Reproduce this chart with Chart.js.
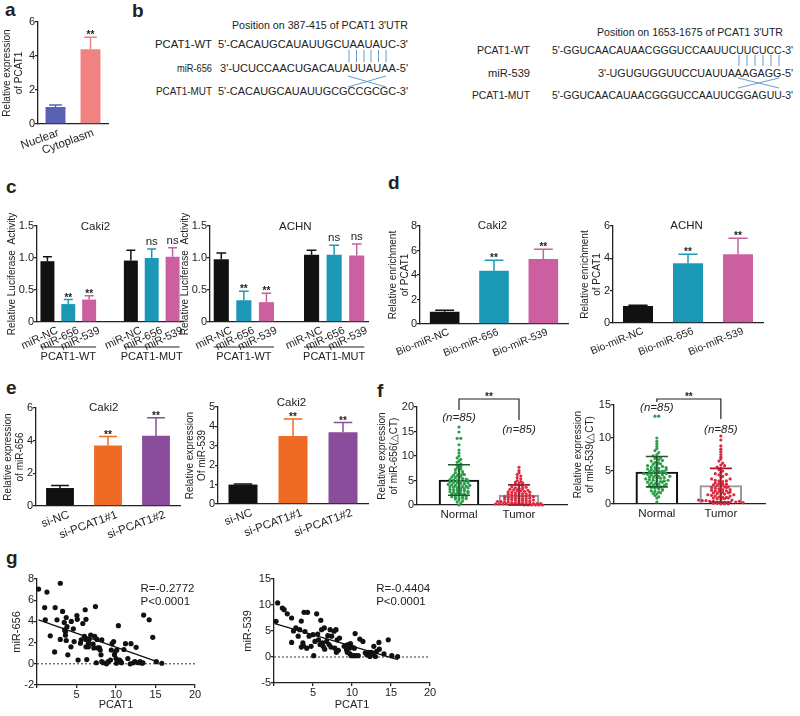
<!DOCTYPE html>
<html>
<head>
<meta charset="utf-8">
<script src="https://cdn.jsdelivr.net/npm/chart.js@4.4.1/dist/chart.umd.min.js"></script>
<style>
  body { margin: 0; background: #fff; }
  #fig { position: relative; width: 800px; height: 716px; overflow: hidden; background: #fff; }
  #fig canvas { position: absolute; }
  #fig svg { position: absolute; left: 0; top: 0; }
</style>
</head>
<body>
<div id="fig">
  <svg width="800" height="716" font-family="Liberation Sans, Arial, sans-serif" fill="#222">
    <g font-size="19" font-weight="bold">
      <text x="5" y="16">a</text>
      <text x="132" y="17">b</text>
      <text x="6" y="193">c</text>
      <text x="388" y="189">d</text>
      <text x="6" y="394">e</text>
      <text x="377" y="397">f</text>
      <text x="6" y="564">g</text>
    </g>
    <g font-size="11.5">
      <text x="232" y="29" textLength="176" lengthAdjust="spacingAndGlyphs">Position on 387-415 of PCAT1 3'UTR</text>
      <text x="155" y="48" textLength="57" lengthAdjust="spacingAndGlyphs">PCAT1-WT</text>
      <text x="218" y="48" textLength="190" lengthAdjust="spacingAndGlyphs">5'-CACAUGCAUAUUGCUAAUAUC-3'</text>
      <text x="177" y="72" textLength="35" lengthAdjust="spacingAndGlyphs">miR-656</text>
      <text x="220" y="72" textLength="188" lengthAdjust="spacingAndGlyphs">3'-UCUCCAACUGACAUAUUAUAA-5'</text>
      <text x="156" y="95" textLength="56" lengthAdjust="spacingAndGlyphs">PCAT1-MUT</text>
      <text x="218" y="95" textLength="190" lengthAdjust="spacingAndGlyphs">5'-CACAUGCAUAUUGCGCCGCGC-3'</text>

      <text x="597" y="36" textLength="186" lengthAdjust="spacingAndGlyphs">Position on 1653-1675 of PCAT1 3'UTR</text>
      <text x="477" y="54" textLength="53" lengthAdjust="spacingAndGlyphs">PCAT1-WT</text>
      <text x="552" y="54" textLength="241" lengthAdjust="spacingAndGlyphs">5'-GGUCAACAUAACGGGUCCAAUUCUUCUCC-3'</text>
      <text x="488" y="77" textLength="42" lengthAdjust="spacingAndGlyphs">miR-539</text>
      <text x="598" y="77" textLength="195" lengthAdjust="spacingAndGlyphs">3'-UGUGUGGUUCCUAUUAAAGAGG-5'</text>
      <text x="472" y="99" textLength="58" lengthAdjust="spacingAndGlyphs">PCAT1-MUT</text>
      <text x="552" y="99" textLength="241" lengthAdjust="spacingAndGlyphs">5'-GGUCAACAUAACGGGUCCAAUUCGGAGUU-3'</text>
    </g>
    <g stroke="#6a9ccf" stroke-width="1" fill="none">
      <path d="M349 50V62M356.5 50V62M364 50V62M371 50V62M378.5 50V62M386 50V62"/>
      <path d="M348 76L386 87M348 87L386 76"/>
      <path d="M739 55V66M747 55V66M755 55V66M763 55V66M771 55V66M779 55V66"/>
      <path d="M738 78L779 88M738 88L779 78"/>
    </g>
  </svg>
  <canvas id="chartA" width="115" height="165" style="left:0;top:0"></canvas>
  <canvas id="chartCL" width="192" height="170" style="left:0;top:195px"></canvas>
  <canvas id="chartCR" width="199" height="170" style="left:178px;top:195px"></canvas>
  <canvas id="chartDL" width="190" height="165" style="left:385px;top:195px"></canvas>
  <canvas id="chartDR" width="195" height="165" style="left:577px;top:195px"></canvas>
  <canvas id="chartEL" width="190" height="165" style="left:0;top:380px"></canvas>
  <canvas id="chartER" width="190" height="165" style="left:184px;top:380px"></canvas>
  <canvas id="chartFL" width="197" height="150" style="left:376px;top:385px"></canvas>
  <canvas id="chartFR" width="200" height="150" style="left:572px;top:385px"></canvas>
  <canvas id="chartGL" width="205" height="156" style="left:0;top:560px"></canvas>
  <canvas id="chartGR" width="205" height="156" style="left:236px;top:560px"></canvas>
</div>
<script>
// ---------- data ----------
// a: subcellular fractions
const aLabels = ['Nuclear', 'Cytoplasm'];
const aValues = [1.0, 4.4];
const aErrTop = [1.12, 5.1];
const aSig = ['', '**'];

// c: luciferase (blank slot separates the WT and MUT groups)
const cLabels = ['miR-NC', 'miR-656', 'miR-539', '', 'miR-NC', 'miR-656', 'miR-539'];
const cGroups = ['PCAT1-WT', 'PCAT1-MUT'];
const cCakiValues = [0.95, 0.28, 0.35, null, 0.96, 1.0, 1.02];
const cCakiErrTop = [1.02, 0.35, 0.41, null, 1.12, 1.14, 1.16];
const cAchnValues = [0.98, 0.34, 0.31, null, 1.05, 1.05, 1.04];
const cAchnErrTop = [1.08, 0.48, 0.45, null, 1.12, 1.2, 1.22];
const cSig = ['', '**', '**', '', '', 'ns', 'ns'];

// d: biotin pull-down
const dLabels = ['Bio-miR-NC', 'Bio-miR-656', 'Bio-miR-539'];
const dCakiValues = [1.0, 4.35, 5.3];
const dCakiErrTop = [1.12, 5.2, 6.1];
const dAchnValues = [1.05, 3.7, 4.25];
const dAchnErrTop = [1.1, 4.25, 5.25];
const dSig = ['', '**', '**'];

// e: knockdown
const eLabels = ['si-NC', 'si-PCAT1#1', 'si-PCAT1#2'];
const e656Values = [1.1, 3.7, 4.3];
const e656ErrTop = [1.25, 4.25, 5.4];
const e539Values = [1.0, 3.5, 3.7];
const e539ErrTop = [1.03, 4.38, 4.2];
const eSig = ['', '**', '**'];

// f: tissue expression (n=85 each)
const fGroups = ['Normal', 'Tumor'];
const f656Normal = [15.9, 14.9, 13.6, 13.6, 12.3, 11.2, 10.6, 10.0, 9.6, 9.3, 9.0, 8.7, 8.4, 8.1, 7.9, 7.6, 7.4, 7.2, 7.0, 6.8, 6.6, 6.4, 6.3, 6.1, 6.0, 5.9, 5.7, 5.6, 5.5, 5.4, 5.3, 5.2, 5.1, 5.0, 4.9, 4.8, 4.7, 4.6, 4.5, 4.4, 4.3, 4.2, 4.1, 4.0, 3.9, 3.8, 3.8, 3.7, 3.6, 3.5, 3.4, 3.3, 3.2, 3.1, 3.0, 3.0, 2.9, 2.8, 2.7, 2.6, 2.5, 2.4, 2.3, 2.2, 2.1, 2.0, 1.9, 1.8, 1.7, 1.6, 1.5, 1.4, 1.3, 1.2, 1.0, 0.8, 0.6, 0.4, 0.0, 4.5, 5.0, 3.5, 6.2, 2.5, 4.0];
const f656Tumor = [7.7, 7.0, 6.6, 6.2, 5.9, 5.6, 5.3, 5.0, 4.8, 4.6, 4.4, 4.2, 4.0, 3.8, 3.7, 3.5, 3.4, 3.2, 3.1, 3.0, 2.9, 2.8, 2.7, 2.6, 2.5, 2.4, 2.3, 2.2, 2.1, 2.0, 1.9, 1.8, 1.8, 1.7, 1.6, 1.5, 1.5, 1.4, 1.3, 1.3, 1.2, 1.1, 1.1, 1.0, 0.9, 0.9, 0.8, 0.8, 0.7, 0.7, 0.6, 0.6, 0.5, 0.5, 0.5, 0.4, 0.4, 0.4, 0.3, 0.3, 0.3, 0.2, 0.2, 0.2, 0.2, 0.1, 0.1, 0.1, 0.1, 0.0, 0.0, 0.0, 0.0, 0.0, 0.0, 1.0, 1.4, 1.7, 2.0, 2.3, 2.6, 3.0, 3.3, 3.6, 4.5];
const f656Mean = [5.1, 2.0];
const f656Low = [2.0, 0.0];
const f656High = [8.2, 4.1];
const f539Normal = [13.3, 13.3, 10.0, 9.5, 9.1, 8.7, 8.4, 8.1, 7.8, 7.5, 7.3, 7.1, 6.9, 6.7, 6.5, 6.3, 6.2, 6.0, 5.9, 5.8, 5.6, 5.5, 5.4, 5.3, 5.2, 5.1, 5.0, 4.9, 4.8, 4.7, 4.6, 4.5, 4.4, 4.3, 4.2, 4.1, 4.0, 3.9, 3.8, 3.7, 3.6, 3.5, 3.4, 3.3, 3.2, 3.1, 3.0, 2.9, 2.8, 2.7, 2.6, 2.5, 2.4, 2.3, 2.2, 2.0, 1.9, 1.8, 1.6, 1.5, 1.3, 1.1, 0.9, 0.3, 5.7, 5.0, 4.4, 3.9, 3.3, 2.8, 6.1, 4.6, 4.0, 5.5, 3.5, 6.6, 4.8, 3.0, 2.1, 5.2, 4.2, 3.6, 7.0, 1.7, 4.9];
const f539Tumor = [10.3, 9.7, 8.8, 8.3, 7.9, 7.5, 7.1, 6.8, 6.5, 6.2, 5.9, 5.6, 5.4, 5.2, 5.0, 4.8, 4.6, 4.4, 4.2, 4.0, 3.8, 3.6, 3.5, 3.4, 3.2, 3.1, 3.0, 2.9, 2.8, 2.7, 2.6, 2.5, 2.4, 2.3, 2.2, 2.1, 2.0, 1.9, 1.8, 1.7, 1.6, 1.5, 1.4, 1.3, 1.2, 1.1, 1.0, 0.9, 0.8, 0.7, 0.6, 0.5, 0.5, 0.4, 0.4, 0.3, 0.3, 0.2, 0.2, 0.1, 0.1, 0.0, 0.0, 0.0, 2.5, 2.0, 1.5, 1.0, 0.6, 3.0, 3.5, 4.5, 1.8, 1.2, 0.8, 0.3, 2.2, 1.7, 0.9, 0.4, 0.2, 5.8, 3.8, 2.6, 1.4];
const f539Mean = [4.85, 2.8];
const f539Low = [2.6, 0.3];
const f539High = [7.2, 5.4];
const fCounts = ['(n=85)', '(n=85)'];

// g: correlation, [PCAT1, miR]
const g656Points = [[0.2,7.05],[1.05,4.15],[1.26,6.77],[0.97,5.3],[1.68,2.64],[2.3,5.3],[2.23,1.12],[2.53,4.15],[2.95,7.6],[2.95,2.3],[3.24,4.94],[3.45,3.9],[3.5,3.2],[3.6,3.05],[3.7,4.37],[3.6,2.7],[3.8,3.5],[3.7,2.2],[3.9,0.85],[4.34,4.0],[4.3,1.6],[4.7,2.1],[5.05,4.55],[5.1,4.2],[5.2,0.36],[5.5,1.95],[5.6,2.26],[5.8,3.8],[6.0,2.6],[6.1,5.1],[6.2,4.2],[6.2,2.3],[6.2,1.6],[6.3,0.4],[6.4,2.3],[6.5,1.95],[6.5,1.6],[6.8,2.7],[7.1,1.85],[7.4,5.4],[7.2,1.5],[7.3,2.6],[7.5,0.1],[7.6,2.3],[7.7,1.5],[7.9,1.5],[8.0,1.3],[8.1,0.85],[8.2,0.2],[8.2,2.25],[8.4,0.1],[9.0,0.2],[9.3,0.35],[9.4,1.3],[9.5,1.9],[9.7,2.1],[9.8,0.85],[9.9,1.15],[10.0,0.5],[10.1,1.3],[10.3,3.6],[10.2,0.2],[10.45,0.36],[10.6,0.2],[10.7,0.1],[11.0,1.35],[11.2,1.9],[11.5,0.5],[11.9,1.9],[12.2,0.1],[12.4,0.2],[12.55,1.55],[12.8,0.1],[13.05,0.2],[13.3,0.05],[13.5,4.6],[13.4,0.1],[14.2,4.15],[14.65,2.5],[15.1,0.2],[15.8,0.05],[4.6,3.3],[6.6,2.3],[8.8,0.0],[10.05,0.05],[11.8,0.0]];
const g656Fit = [[0.2, 4.15], [15.2, 0.2]];
const g656Stats = ['R=-0.2772', 'P<0.0001'];
const g539Points = [[0.26,6.86],[0.47,10.4],[1.07,9.4],[1.3,9.1],[1.7,8.3],[2.26,7.5],[2.26,2.8],[2.5,5.0],[2.8,5.6],[3.1,4.0],[3.3,5.25],[3.5,6.9],[3.5,1.9],[3.7,2.7],[3.76,2.2],[3.85,8.6],[3.97,4.9],[4.2,1.7],[4.3,8.6],[4.5,4.0],[4.75,2.05],[5.0,4.3],[5.1,0.25],[5.25,3.0],[5.47,8.3],[5.6,4.4],[5.7,3.3],[5.9,2.4],[6.0,7.05],[6.1,5.25],[6.2,2.7],[6.3,2.05],[6.45,5.6],[6.5,1.5],[6.75,3.0],[6.9,4.1],[7.05,2.4],[7.2,5.25],[7.3,1.9],[7.4,4.0],[7.7,4.95],[7.8,1.7],[7.95,5.25],[8.0,0.9],[8.1,3.3],[8.25,1.3],[8.4,3.65],[9.0,2.05],[9.2,2.2],[9.3,1.4],[9.4,0.9],[9.5,2.4],[9.65,1.7],[9.75,0.6],[9.8,2.6],[9.9,0.25],[10.0,1.9],[10.2,0.25],[10.4,4.5],[10.3,1.7],[10.5,0.25],[10.8,0.25],[11.0,3.45],[11.4,3.0],[11.7,0.8],[11.9,0.45],[12.1,0.9],[12.3,0.1],[12.5,0.9],[12.65,0.45],[12.8,2.05],[13.0,0.1],[13.15,1.1],[13.45,2.8],[13.5,1.5],[14.1,0.6],[14.65,3.3],[15.1,0.25],[15.85,0.1]];
const g539Fit = [[0.1, 6.4], [15.9, -0.5]];
const g539Stats = ['R=-0.4404', 'P<0.0001'];

// ---------- styles ----------
const FONT = '"Liberation Sans", Arial, sans-serif';
const INK = '#222';
const BLACK = '#111';
const TEAL = '#1b98b5';
const PINK = '#cc5fa0';
const ORANGE = '#ef6b23';
const PURPLE = '#8a4d9b';
const GREEN = '#2f9e4c';
const RED = '#dc2a40';

Chart.defaults.font.family = FONT;
Chart.defaults.font.size = 11;
Chart.defaults.color = INK;
Chart.defaults.animation = false;

const barExtras = {
  id: 'barExtras',
  afterDatasetsDraw(chart, args, o) {
    if (!o.errTop) return;
    const { ctx, chartArea: ca, scales: { y } } = chart;
    const meta = chart.getDatasetMeta(0);
    const colors = chart.data.datasets[0].backgroundColor;
    ctx.save();
    meta.data.forEach((bar, i) => {
      const e = o.errTop[i];
      if (e == null) return;
      const top = y.getPixelForValue(e);
      const hw = bar.width * 0.32;
      ctx.strokeStyle = colors[i];
      ctx.lineWidth = 1.5;
      ctx.beginPath();
      ctx.moveTo(bar.x, bar.y);
      ctx.lineTo(bar.x, top);
      ctx.moveTo(bar.x - hw, top);
      ctx.lineTo(bar.x + hw, top);
      ctx.stroke();
      const s = o.sig && o.sig[i];
      if (s) {
        ctx.fillStyle = INK;
        ctx.textAlign = 'center';
        ctx.textBaseline = 'alphabetic';
        if (s === '**') {
          ctx.font = 'bold 10px ' + FONT;
          ctx.fillText(s, bar.x, top + 1);
        } else {
          ctx.font = '11.5px ' + FONT;
          ctx.fillText(s, bar.x, top - 4);
        }
      }
    });
    if (o.title) {
      ctx.fillStyle = INK;
      ctx.font = '11.5px ' + FONT;
      ctx.textAlign = 'center';
      ctx.textBaseline = 'middle';
      ctx.fillText(o.title.text, ca.left + o.title.fx * (ca.right - ca.left), ca.top + o.title.dy);
    }
    (o.groups || []).forEach(g => {
      const b0 = meta.data[g.from], b1 = meta.data[g.to];
      const x0 = b0.x - b0.width / 2, x1 = b1.x + b1.width / 2;
      const yy = ca.bottom + 25;
      ctx.strokeStyle = INK;
      ctx.lineWidth = 1.2;
      ctx.beginPath();
      ctx.moveTo(x0, yy);
      ctx.lineTo(x1, yy);
      ctx.stroke();
      ctx.fillStyle = INK;
      ctx.font = '11px ' + FONT;
      ctx.textAlign = 'center';
      ctx.textBaseline = 'middle';
      ctx.fillText(g.text, (x0 + x1) / 2, yy + 10);
    });
    ctx.restore();
  }
};

const dotExtras = {
  id: 'dotExtras',
  afterDatasetsDraw(chart, args, o) {
    if (!o.mean) return;
    const { ctx, chartArea: ca, scales: { x, y } } = chart;
    ctx.save();
    o.mean.forEach((m, i) => {
      const cx = x.getPixelForValue(i + 1);
      const yt = y.getPixelForValue(o.high[i]);
      const yb = y.getPixelForValue(o.low[i]);
      ctx.strokeStyle = o.errColors[i];
      ctx.lineWidth = 1.6;
      ctx.beginPath();
      ctx.moveTo(cx, yb);
      ctx.lineTo(cx, yt);
      ctx.moveTo(cx - 11, yt);
      ctx.lineTo(cx + 11, yt);
      ctx.moveTo(cx - 11, yb);
      ctx.lineTo(cx + 11, yb);
      ctx.stroke();
    });
    const x1 = x.getPixelForValue(1), x2 = x.getPixelForValue(2);
    const by = ca.top + o.bracket.dy;
    ctx.strokeStyle = INK;
    ctx.lineWidth = 1.2;
    ctx.beginPath();
    ctx.moveTo(x1, by + o.bracket.l);
    ctx.lineTo(x1, by);
    ctx.lineTo(x2, by);
    ctx.lineTo(x2, by + o.bracket.r);
    ctx.stroke();
    ctx.fillStyle = INK;
    ctx.textAlign = 'center';
    ctx.textBaseline = 'alphabetic';
    ctx.font = 'bold 10px ' + FONT;
    ctx.fillText('**', (x1 + x2) / 2, by + 1);
    ctx.font = 'italic 11.5px ' + FONT;
    ctx.textBaseline = 'middle';
    o.counts.forEach((t, i) => ctx.fillText(t, x.getPixelForValue(i + 1), ca.top + o.countDy[i]));
    ctx.restore();
  }
};

const corrExtras = {
  id: 'corrExtras',
  beforeDatasetsDraw(chart, args, o) {
    if (!o.stats) return;
    const { ctx, chartArea: ca, scales: { y } } = chart;
    const y0 = y.getPixelForValue(0);
    ctx.save();
    ctx.setLineDash([2, 2]);
    ctx.strokeStyle = '#333';
    ctx.lineWidth = 1;
    ctx.beginPath();
    ctx.moveTo(ca.left, y0);
    ctx.lineTo(ca.right, y0);
    ctx.stroke();
    ctx.restore();
  },
  afterDatasetsDraw(chart, args, o) {
    if (!o.stats) return;
    const { ctx, chartArea: ca } = chart;
    ctx.save();
    ctx.fillStyle = INK;
    ctx.font = '11.5px ' + FONT;
    ctx.textAlign = 'left';
    ctx.textBaseline = 'middle';
    o.stats.forEach((t, i) => ctx.fillText(t, ca.left + 0.655 * (ca.right - ca.left), ca.top + 10 + i * 13));
    ctx.restore();
  }
};

function yScale(o) {
  const s = {
    min: o.min,
    max: o.max,
    ticks: { stepSize: o.step, color: INK, font: { size: 11 }, padding: 0 },
    grid: { drawOnChartArea: false, drawTicks: true, tickLength: 3, color: INK, lineWidth: 1.3 },
    border: { display: true, color: INK, width: 1.3 },
    title: { display: true, text: o.title, color: INK, font: { size: o.tsize || 10, lineHeight: 1.2 }, padding: { top: o.tpad, bottom: 0 } },
    afterFit: sc => { sc.width = o.w; sc.paddingTop = 0; sc.paddingBottom = 0; }
  };
  if (o.fmt) s.ticks.callback = o.fmt;
  return s;
}

function xCatScale(h, rot, shift, size) {
  return {
    ticks: { color: INK, font: { size: size }, autoSkip: false, maxRotation: rot, minRotation: rot, padding: 2, labelOffset: shift },
    grid: { display: false, drawTicks: false },
    border: { display: true, color: INK, width: 1.3 },
    afterFit: sc => { sc.height = h; sc.paddingLeft = 0; sc.paddingRight = 0; }
  };
}

function makeBar(id, o) {
  return new Chart(document.getElementById(id), {
    type: 'bar',
    data: {
      labels: o.labels,
      datasets: [{ data: o.values, backgroundColor: o.colors, barPercentage: o.bp, categoryPercentage: 1 }]
    },
    options: {
      responsive: false,
      layout: { padding: { top: o.pad[0], right: o.pad[1], bottom: 0, left: 0 } },
      scales: { x: xCatScale(o.xh, o.rot, o.shift, o.xfont), y: yScale(o.y) },
      plugins: {
        legend: { display: false },
        tooltip: { enabled: false },
        barExtras: { errTop: o.errTop, sig: o.sig, title: o.title, groups: o.groups }
      }
    },
    plugins: [barExtras]
  });
}

// spreads points of equal height sideways, like a column scatter
function swarm(values, center, bin, step) {
  const rows = {};
  values.forEach(v => {
    const k = Math.round(v / bin);
    (rows[k] = rows[k] || []).push(v);
  });
  const pts = [];
  Object.values(rows).forEach(list => {
    list.forEach((v, k) => pts.push({ x: center + (k - (list.length - 1) / 2) * step, y: v }));
  });
  return pts;
}

function makeDots(id, o) {
  return new Chart(document.getElementById(id), {
    type: 'bar',
    data: {
      datasets: [
        { type: 'scatter', data: swarm(o.normal, 1, o.bin, o.step), backgroundColor: GREEN, pointRadius: 1.6, borderWidth: 0, order: 0, clip: false },
        { type: 'scatter', data: swarm(o.tumor, 2, o.bin, o.step), backgroundColor: RED, pointRadius: 1.6, borderWidth: 0, order: 0, clip: false },
        { type: 'bar', data: o.mean.map((m, i) => ({ x: i + 1, y: m })), backgroundColor: 'rgba(255,255,255,0)', borderColor: ['#111', '#999'], borderWidth: 1.5, barThickness: o.barW, order: 1 }
      ]
    },
    options: {
      responsive: false,
      layout: { padding: { top: o.pad[0], right: o.pad[1], bottom: 0, left: 0 } },
      scales: {
        x: {
          type: 'linear', min: o.xmin, max: o.xmax, offset: false,
          afterBuildTicks: sc => { sc.ticks = [{ value: 1 }, { value: 2 }]; },
          ticks: { callback: v => fGroups[v - 1], color: INK, font: { size: 11.5 }, padding: 3, maxRotation: 0 },
          grid: { display: false, drawTicks: false },
          border: { display: true, color: INK, width: 1.3 },
          afterFit: sc => { sc.height = o.xh; sc.paddingLeft = 0; sc.paddingRight = 0; }
        },
        y: yScale(o.y)
      },
      plugins: {
        legend: { display: false },
        tooltip: { enabled: false },
        dotExtras: { mean: o.mean, low: o.low, high: o.high, errColors: ['#1d5c2b', '#9c1c2c'], bracket: o.bracket, counts: fCounts, countDy: o.countDy }
      }
    },
    plugins: [dotExtras]
  });
}

function makeCorr(id, o) {
  return new Chart(document.getElementById(id), {
    type: 'scatter',
    data: {
      datasets: [
        { data: o.points.map(p => ({ x: p[0], y: p[1] })), backgroundColor: BLACK, pointRadius: 2.6, borderWidth: 0, clip: false },
        { type: 'line', data: o.fit.map(p => ({ x: p[0], y: p[1] })), borderColor: BLACK, borderWidth: 1.3, pointRadius: 0, fill: false }
      ]
    },
    options: {
      responsive: false,
      layout: { padding: { top: o.pad[0], right: o.pad[1], bottom: 0, left: 0 } },
      scales: {
        x: {
          type: 'linear', min: 0, max: 20,
          ticks: { stepSize: 5, callback: v => (v === 0 ? '' : v), color: INK, font: { size: 11 }, padding: 0 },
          grid: { drawOnChartArea: false, drawTicks: true, tickLength: 3, color: INK, lineWidth: 1.3 },
          border: { display: true, color: INK, width: 1.3 },
          title: { display: true, text: 'PCAT1', color: INK, font: { size: 11 }, padding: { top: 0, bottom: 4 } },
          afterFit: sc => { sc.height = o.xh; sc.paddingLeft = 0; sc.paddingRight = 0; }
        },
        y: yScale(o.y)
      },
      plugins: {
        legend: { display: false },
        tooltip: { enabled: false },
        corrExtras: { stats: o.stats }
      }
    },
    plugins: [corrExtras]
  });
}

const oneDec = v => (v === 0 ? '0' : v.toFixed(1));

// ---------- panels ----------
makeBar('chartA', {
  labels: aLabels, values: aValues, errTop: aErrTop, sig: aSig,
  colors: ['#5a61b4', '#f08282'], bp: 0.57, rot: 20, shift: 3, xfont: 11.5, pad: [22, 7], xh: 41,
  y: { min: 0, max: 6, step: 2, title: ['Relative expression', 'of PCAT1'], w: 38, tpad: 1 }
});

const cColors = [BLACK, TEAL, PINK, null, BLACK, TEAL, PINK];
const cGroupDefs = [{ text: cGroups[0], from: 0, to: 2 }, { text: cGroups[1], from: 4, to: 6 }];
makeBar('chartCL', {
  labels: cLabels, values: cCakiValues, errTop: cCakiErrTop, sig: cSig, colors: cColors,
  bp: 0.67, rot: 25, shift: 10, xfont: 11, pad: [31, 9], xh: 43, title: { text: 'Caki2', fx: 0.4, dy: 1 }, groups: cGroupDefs,
  y: { min: 0, max: 1.5, step: 0.5, fmt: oneDec, title: 'Relative Luciferase  Activity', w: 37, tpad: 6 }
});
makeBar('chartCR', {
  labels: cLabels, values: cAchnValues, errTop: cAchnErrTop, sig: cSig, colors: cColors,
  bp: 0.67, rot: 25, shift: 10, xfont: 11, pad: [31, 9], xh: 43, title: { text: 'ACHN', fx: 0.54, dy: 1 }, groups: cGroupDefs,
  y: { min: 0, max: 1.5, step: 0.5, fmt: oneDec, title: 'Relative Luciferase  Activity', w: 32, tpad: 1 }
});

makeBar('chartDL', {
  labels: dLabels, values: dCakiValues, errTop: dCakiErrTop, sig: dSig, colors: [BLACK, TEAL, PINK],
  bp: 0.6, rot: 22, shift: 4, xfont: 10.5, pad: [31, 7], xh: 36, title: { text: 'Caki2', fx: 0.49, dy: 0 },
  y: { min: 0, max: 8, step: 2, title: ['Relative enrichment', 'of PCAT1'], w: 35, tpad: 2 }
});
makeBar('chartDR', {
  labels: dLabels, values: dAchnValues, errTop: dAchnErrTop, sig: dSig, colors: [BLACK, TEAL, PINK],
  bp: 0.6, rot: 22, shift: 5, xfont: 10.5, pad: [31, 9], xh: 37, title: { text: 'ACHN', fx: 0.49, dy: 0 },
  y: { min: 0, max: 6, step: 2, title: ['Relative enrichment', 'of PCAT1'], w: 36, tpad: 2 }
});

makeBar('chartEL', {
  labels: eLabels, values: e656Values, errTop: e656ErrTop, sig: eSig, colors: [BLACK, ORANGE, PURPLE],
  bp: 0.58, rot: 20, shift: 9, xfont: 11.5, pad: [28, 10], xh: 39, title: { text: 'Caki2', fx: 0.47, dy: 0 },
  y: { min: 0, max: 6, step: 2, title: ['Relative expression', 'of miR-656'], w: 36, tpad: 2 }
});
makeBar('chartER', {
  labels: eLabels, values: e539Values, errTop: e539ErrTop, sig: eSig, colors: [BLACK, ORANGE, PURPLE],
  bp: 0.58, rot: 20, shift: 9, xfont: 11.5, pad: [27, 6], xh: 41, title: { text: 'Caki2', fx: 0.49, dy: -4 },
  y: { min: 0, max: 5, step: 1, title: ['Relative expression', 'Of miR-539'], w: 34, tpad: 0 }
});

makeDots('chartFL', {
  normal: f656Normal, tumor: f656Tumor, mean: f656Mean, low: f656Low, high: f656High,
  bin: 0.5, step: 0.06, barW: 40, xmin: 0.3, xmax: 2.8, pad: [22, 6], xh: 30,
  bracket: { dy: -8, l: 11, r: 21 }, countDy: [11, 23],
  y: { min: 0, max: 20, step: 5, title: ['Relative expression', 'of miR-656(\u25B3CT)'], w: 41, tpad: 0 }
});
makeDots('chartFR', {
  normal: f539Normal, tumor: f539Tumor, mean: f539Mean, low: f539Low, high: f539High,
  bin: 0.4, step: 0.058, barW: 42, xmin: 0.33, xmax: 2.69, pad: [20, 7], xh: 31,
  bracket: { dy: -6, l: 3, r: 20 }, countDy: [3, 25],
  y: { min: 0, max: 15, step: 5, title: ['Relative expression', 'of miR-539(\u25B3CT)'], w: 42, tpad: 0 }
});

makeCorr('chartGL', {
  points: g656Points, fit: g656Fit, stats: g656Stats, pad: [19, 10], xh: 31,
  y: { min: -2, max: 8, step: 2, title: 'miR-656', tsize: 11, w: 37, tpad: 10 }
});
makeCorr('chartGR', {
  points: g539Points, fit: g539Fit, stats: g539Stats, pad: [19, 11], xh: 33,
  y: { min: -5, max: 15, step: 5, title: 'miR-539', tsize: 11, w: 38, tpad: 5 }
});
</script>
</body>
</html>
